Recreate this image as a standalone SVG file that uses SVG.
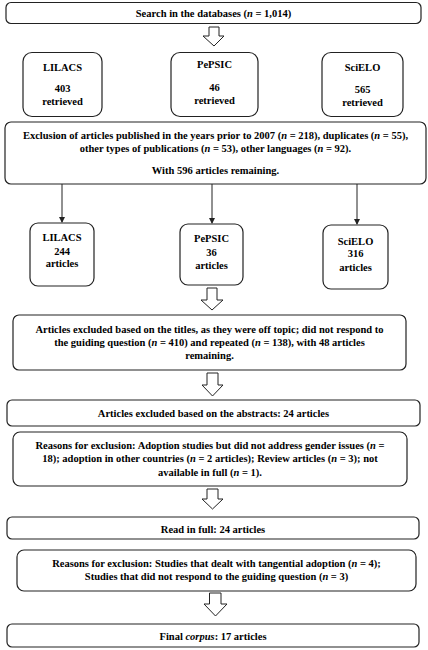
<svg xmlns="http://www.w3.org/2000/svg" width="428" height="650" viewBox="0 0 428 650">
<defs>
<style>
.box{fill:#fff;stroke:#222;stroke-width:1.2}
.ha{fill:#fff;stroke:#222;stroke-width:1}
.ln{stroke:#222;stroke-width:1;fill:none}
.t text{font-weight:bold;font-size:10.5px;fill:#000;text-anchor:middle}
</style>
<marker id="ah" markerWidth="6" markerHeight="6" refX="5" refY="3" orient="auto" markerUnits="userSpaceOnUse">
<path d="M0,0 L6,3 L0,6 Z" fill="#222"/>
</marker>
</defs>
<rect width="428" height="650" fill="#fff"/>
<g class="t" font-family="'Liberation Serif', 'DejaVu Serif', serif">

<g id="n-search">
<rect class="box" x="6" y="2.5" width="415" height="21" rx="5"/>
<text x="213.5" y="16.5">Search in the databases (<tspan font-style="italic">n</tspan> = 1,014)</text>
</g>

<g id="n-lilacs1">
<rect class="box" x="23" y="52.5" width="79" height="64" rx="9"/>
<text x="62.5" y="71">LILACS</text>
<text x="62.5" y="92">403</text>
<text x="62.5" y="104.5">retrieved</text>
</g>
<g id="n-pepsic1">
<rect class="box" x="171" y="52.5" width="87" height="64" rx="9"/>
<text x="214.5" y="67.5">PePSIC</text>
<text x="214.5" y="90.5">46</text>
<text x="214.5" y="103.5">retrieved</text>
</g>
<g id="n-scielo1">
<rect class="box" x="322" y="52.5" width="81" height="64" rx="9"/>
<text x="362.5" y="70.5">SciELO</text>
<text x="362.5" y="92.5">565</text>
<text x="362.5" y="105.5">retrieved</text>
</g>

<g id="n-exclusion">
<rect class="box" x="5" y="122" width="421" height="62" rx="6"/>
<text x="215.5" y="138.5">Exclusion of articles published in the years prior to 2007 (<tspan font-style="italic">n</tspan> = 218), duplicates (<tspan font-style="italic">n</tspan> = 55),</text>
<text x="215.5" y="151.5">other types of publications (<tspan font-style="italic">n</tspan> = 53), other languages (<tspan font-style="italic">n</tspan> = 92).</text>
<text x="215.5" y="173.5">With 596 articles remaining.</text>
</g>

<g id="n-lilacs2">
<rect class="box" x="30" y="223" width="64" height="63" rx="8"/>
<text x="62" y="240.5">LILACS</text>
<text x="62" y="254.5">244</text>
<text x="62" y="266.5">articles</text>
</g>
<g id="n-pepsic2">
<rect class="box" x="180" y="224" width="63" height="61" rx="8"/>
<text x="211.5" y="241.5">PePSIC</text>
<text x="211.5" y="255.5">36</text>
<text x="211.5" y="268.5">articles</text>
</g>
<g id="n-scielo2">
<rect class="box" x="323" y="225" width="65" height="64" rx="8"/>
<text x="355.5" y="244.5">SciELO</text>
<text x="355.5" y="256.5">316</text>
<text x="355.5" y="270.5">articles</text>
</g>

<g id="n-titles">
<rect class="box" x="13" y="315" width="393" height="55" rx="6"/>
<text x="209.5" y="332.5">Articles excluded based on the titles, as they were off topic; did not respond to</text>
<text x="209.5" y="345.5">the guiding question (<tspan font-style="italic">n</tspan> = 410) and repeated (<tspan font-style="italic">n</tspan> = 138), with 48 articles</text>
<text x="209.5" y="358.5">remaining.</text>
</g>

<g id="n-abstracts">
<rect class="box" x="7" y="400" width="413" height="26" rx="5"/>
<text x="213.5" y="416.5">Articles excluded based on the abstracts: 24 articles</text>
</g>

<g id="n-reasons1">
<rect class="box" x="13" y="432" width="394" height="54" rx="7"/>
<text x="210" y="448.5">Reasons for exclusion: Adoption studies but did not address gender issues (<tspan font-style="italic">n</tspan> =</text>
<text x="210" y="461.5">18); adoption in other countries (<tspan font-style="italic">n</tspan> = 2 articles); Review articles (<tspan font-style="italic">n</tspan> = 3); not</text>
<text x="210" y="475.5">available in full (<tspan font-style="italic">n</tspan> = 1).</text>
</g>

<g id="n-readfull">
<rect class="box" x="7" y="517" width="412" height="22" rx="5"/>
<text x="213" y="532.5">Read in full: 24 articles</text>
</g>

<g id="n-reasons2">
<rect class="box" x="17" y="550" width="399" height="41" rx="7"/>
<text x="216.5" y="566.5">Reasons for exclusion: Studies that dealt with tangential adoption (<tspan font-style="italic">n</tspan> = 4);</text>
<text x="216.5" y="579.5">Studies that did not respond to the guiding question (<tspan font-style="italic">n</tspan> = 3)</text>
</g>

<g id="n-final">
<rect class="box" x="7" y="624" width="412" height="23" rx="5"/>
<text x="213" y="640"><tspan>Final </tspan><tspan font-style="italic">corpus</tspan>: 17 articles</text>
</g>
</g>

<g id="connectors">
<path class="ha" d="M209,27 H219 V36 H224 L214,46 L203,36 H209 Z"/>
<path class="ha" d="M207,288 H217 V300 H223 L212,310 L201,300 H207 Z"/>
<path class="ha" d="M207,373 H218 V385 H223 L212.5,396 L202,385 H207 Z"/>
<path class="ha" d="M207,489 H218 V499 H223 L212.5,509 L202,499 H207 Z"/>
<path class="ha" d="M209.5,593 H221 V604 H227 L215.5,616 L204,604 H209.5 Z"/>
<line class="ln" x1="62" y1="184" x2="62" y2="222" marker-end="url(#ah)"/>
<line class="ln" x1="212" y1="184" x2="212" y2="223" marker-end="url(#ah)"/>
<line class="ln" x1="357" y1="184" x2="357" y2="224" marker-end="url(#ah)"/>
</g>
</svg>
